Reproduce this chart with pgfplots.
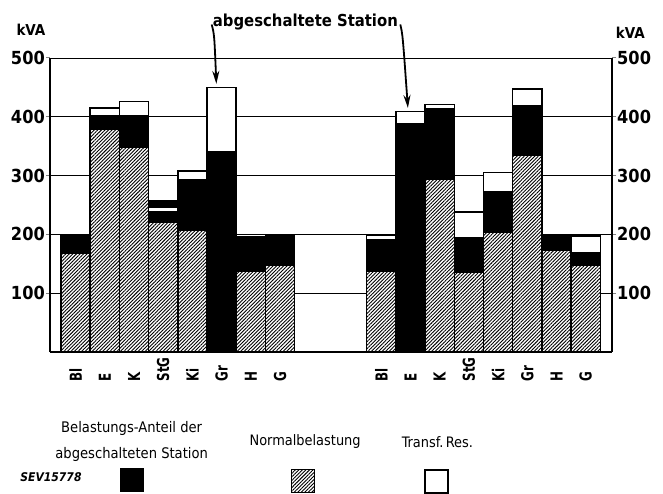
\documentclass[border=0pt]{standalone}
\usepackage{fontspec}
\setmainfont{DejaVu Sans Condensed}
\newfontfamily\narrowfont{DejaVu Sans Condensed}[FakeStretch=0.8]
\usepackage{pgfplots}
\usepackage{pgfplotstable}
\pgfplotsset{compat=1.18}
\usetikzlibrary{patterns.meta,arrows.meta}

\pgfplotstableread{
x     norm anteil res extra
0      168  29   3   0
1      379  23  13   0
2      349  53  24   0
3      220  18   9  11
4      207  86  15   0
5        0 341 109   0
6      138  54   4   0
7      148  52   0   0
10.47  137  54   7   0
11.47    0 388  21   0
12.47  294 120   7   0
13.47  135  59  44   0
14.47  204  69  32   0
15.47  335  83  29   0
16.47  173  24   0   0
17.47  147  21  29   0
}\data

\tikzset{hatch/.style={preaction={fill=white}, pattern={Lines[angle=45,distance=2.5pt,line width=0.9pt]}}}

\begin{document}
\begin{tikzpicture}
\begin{axis}[
  name=main, set layers,
  scale only axis, width=562pt, height=294pt,
  xmin=-0.877, xmax=18.37, ymin=0, ymax=500,
  ybar stacked, bar width=1,
  axis x line*=bottom, axis y line*=box,
  axis line style={line width=2pt},
  ytick={100,200,300,400,500},
  ymajorgrids, grid style={black, line width=0.8pt},
  tick align=outside, major tick length=4pt,
  ytick style={line width=1pt},
  yticklabel style={font=\bfseries\fontsize{18}{18}\selectfont, inner sep=1pt},
  /pgf/number format/assume math mode=true,
  xtick={0,1,2,3,4,5,6,7,10.47,11.47,12.47,13.47,14.47,15.47,16.47,17.47},
  xticklabels={Bl,E,K,StG,Ki,Gr,H,G,Bl,E,K,StG,Ki,Gr,H,G},
  xtick style={draw=none},
  xticklabel style={rotate=90, anchor=west, font=\narrowfont\bfseries\fontsize{16.5}{16.5}\selectfont},
  xticklabel shift=29pt,
  clip=false,
]
\addplot[draw=black, line width=1.5pt, hatch] table[x=x,y=norm]{\data};
\addplot[draw=black, line width=1.5pt, fill=black] table[x=x,y=anteil]{\data};
\addplot[draw=black, line width=1.5pt, fill=white] table[x=x,y=res]{\data};
\addplot[draw=black, line width=1.5pt, fill=black] table[x=x,y=extra]{\data};

\coordinate (O) at (rel axis cs:0,0);

\node[font=\bfseries\fontsize{16.5}{16.5}\selectfont] at (axis cs:7.87,562) {abgeschaltete Station};
\draw[line width=1.8pt, -{Stealth[length=13pt,width=7pt]}] (axis cs:4.66,557) .. controls (axis cs:4.75,540) .. (axis cs:4.82,456);
\draw[line width=1.8pt, -{Stealth[length=13pt,width=7pt]}] (axis cs:11.12,557) .. controls (axis cs:11.2,540) .. (axis cs:11.38,415);

\node[font=\bfseries\fontsize{15}{15}\selectfont] at (axis cs:-1.53,548) {kVA};
\node[font=\bfseries\fontsize{15}{15}\selectfont] at (axis cs:19.0,543) {kVA};

\node[align=center, font=\fontsize{14.6}{26}\selectfont] at (axis cs:1.92,-152) {Belastungs-Anteil der\\abgeschalteten Station};
\node[font=\fontsize{14.4}{14.4}\selectfont] at (axis cs:7.86,-153) {Normalbelastung};
\node[font=\fontsize{14.4}{14.4}\selectfont] at (axis cs:12.39,-153) {Transf.\,Res.};
\node[anchor=west, font=\itshape\bfseries\fontsize{12}{12}\selectfont] at (axis cs:-2.01,-212.6) {SEV15778};

\node[draw=black, fill=black, minimum size=23pt, inner sep=0pt] at (axis cs:1.91,-217) {};
\node[draw=black, line width=1pt, hatch, minimum size=23pt, inner sep=0pt] at (axis cs:7.80,-219) {};
\node[draw=black, line width=1.3pt, fill=white, minimum size=23pt, inner sep=0pt] at (axis cs:12.36,-220) {};
\end{axis}
\begin{axis}[
  at={(main.south west)}, anchor=south west,
  scale only axis, width=562pt, height=294pt,
  xmin=-0.877, xmax=18.37, ymin=0, ymax=500,
  axis x line=none, axis y line*=right,
  axis line style={line width=2pt},
  ytick={100,200,300,400,500},
  tick align=outside, major tick length=4pt,
  ytick style={line width=1pt},
  yticklabel style={font=\bfseries\fontsize{18}{18}\selectfont, inner sep=1pt},
  /pgf/number format/assume math mode=true,
]
\end{axis}
\pgfresetboundingbox
\path[use as bounding box] ([shift={(-50pt,-141pt)}]O) rectangle ([shift={(613pt,352pt)}]O);
\end{tikzpicture}
\end{document}
